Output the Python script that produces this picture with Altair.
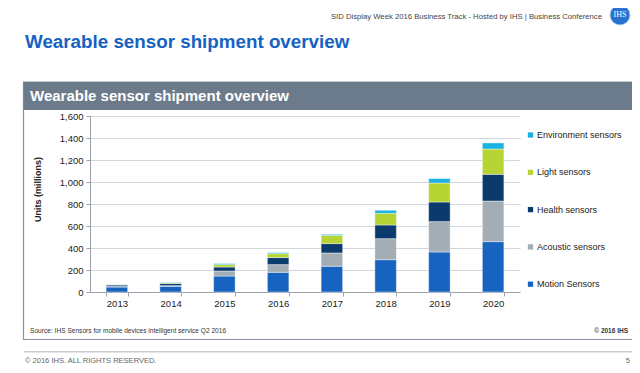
import altair as alt
import pandas as pd

years = ["2013", "2014", "2015", "2016", "2017", "2018", "2019", "2020"]
series = ["Motion Sensors", "Acoustic sensors", "Health sensors", "Light sensors", "Environment sensors"]
motion = [45, 52, 145, 179, 234, 294, 364, 458]
acoustic = [5, 6, 46, 70, 121, 191, 276, 369]
health = [15, 20, 36, 64, 85, 124, 178, 243]
light = [1, 6, 22, 36, 75, 106, 173, 230]
environment = [1, 4, 9, 9, 9, 28, 40, 55]
colors = ["#1764c0", "#a3adb5", "#0b3a6d", "#b6d433", "#1ab2e2"]
y_ticks = [0, 200, 400, 600, 800, 1000, 1200, 1400, 1600]

values = [motion, acoustic, health, light, environment]
rows = []
for si, (name, vals) in enumerate(zip(series, values)):
    for y, v in zip(years, vals):
        rows.append({"year": y, "sensor": name, "units": v, "order": si})
df = pd.DataFrame(rows)

legend_order = list(reversed(series))
legend_colors = list(reversed(colors))

bars = alt.Chart(df).mark_bar(stroke="white", strokeWidth=0.4).encode(
    x=alt.X("year:N", sort=years,
            scale=alt.Scale(paddingInner=0.6, paddingOuter=0.3),
            axis=alt.Axis(title=None, labelAngle=0, labelFontSize=9.5, labelColor="#222",
                          labelPadding=2, tickSize=4, tickBand="extent", tickColor="#9aa3ad",
                          domainColor="#9aa3ad", grid=False)),
    y=alt.Y("units:Q", stack="zero",
            scale=alt.Scale(domain=[0, 1600], nice=False),
            axis=alt.Axis(values=y_ticks, format=",d", title="Units (millions)",
                          titleFontSize=9, titleFontWeight="bold", titleColor="#222",
                          titleX=-53, titleY=73, titleAlign="center", titleBaseline="middle",
                          labelFontSize=9.5, labelColor="#222", labelPadding=3, tickSize=4,
                          tickColor="#9aa3ad", domainColor="#9aa3ad",
                          gridColor="#cfd6de", gridWidth=1)),
    color=alt.Color("sensor:N",
                    scale=alt.Scale(domain=legend_order, range=legend_colors),
                    legend=alt.Legend(title=None, orient="none", legendX=436, legendY=14.5,
                                      padding=0,
                                      symbolType="square", symbolSize=28, symbolStrokeWidth=0,
                                      labelFontSize=9, labelColor="#222", labelOffset=2,
                                      rowPadding=27.3)),
    order=alt.Order("order:Q", sort="ascending"),
)

one = alt.Data(values=[{"k": 1}])

border = alt.Chart(one).mark_rect(fillOpacity=0, stroke="#8793a0", strokeWidth=1.2).encode(
    x=alt.value(-66.5), x2=alt.value(543), y=alt.value(-34), y2=alt.value(223.5))
band = alt.Chart(one).mark_rect(fill="#6c7b8b").encode(
    x=alt.value(-66.5), x2=alt.value(543), y=alt.value(-34), y2=alt.value(-6))
band_text = alt.Chart(one).mark_text(text="Wearable sensor shipment overview", align="left",
                                     baseline="alphabetic", fontSize=15, fontWeight="bold",
                                     color="white").encode(x=alt.value(-60), y=alt.value(-15))
title = alt.Chart(one).mark_text(text="Wearable sensor shipment overview", align="left",
                                 baseline="alphabetic", fontSize=18.8, fontWeight="bold",
                                 color="#1662c2").encode(x=alt.value(-65), y=alt.value(-67.7))
header = alt.Chart(one).mark_text(text="SID Display Week 2016 Business Track - Hosted by IHS |  Business Conference",
                                  align="right", baseline="middle", fontSize=7.7,
                                  color="#444").encode(x=alt.value(512), y=alt.value(-99))
logo = alt.Chart(one).mark_point(shape="circle", filled=True, size=400, color="#2a72cf",
                                 stroke="#a8c8ee", strokeWidth=1, opacity=1).encode(
    x=alt.value(530), y=alt.value(-101))
logo_text = alt.Chart(one).mark_text(text="IHS", align="center", baseline="middle", fontSize=8,
                                     color="white", font="Liberation Serif").encode(
    x=alt.value(530), y=alt.value(-101))
source = alt.Chart(one).mark_text(text="Source: IHS Sensors for mobile devices intelligent service Q2 2016",
                                  align="left", baseline="middle", fontSize=6.6,
                                  color="#333").encode(x=alt.value(-60), y=alt.value(214.7))
copy_r = alt.Chart(one).mark_text(text="© 2016 IHS", align="right", baseline="middle", fontSize=6.5,
                                  fontWeight="bold", color="#333").encode(x=alt.value(538), y=alt.value(214.7))
foot_line = alt.Chart(one).mark_rule(color="#c9ced4", strokeWidth=1.5).encode(
    x=alt.value(-66), x2=alt.value(543), y=alt.value(235.7))
footer = alt.Chart(one).mark_text(text="© 2016 IHS. ALL RIGHTS RESERVED.", align="left",
                                  baseline="alphabetic", fontSize=7.5, color="#666").encode(
    x=alt.value(-65), y=alt.value(247))
page_no = alt.Chart(one).mark_text(text="5", align="right", baseline="alphabetic", fontSize=7.5,
                                   color="#666").encode(x=alt.value(540), y=alt.value(247))

chart = alt.layer(
    border, band, band_text, title, header, logo, logo_text, source, copy_r,
    foot_line, footer, page_no, bars
).properties(
    width=430, height=176,
    autosize=alt.AutoSizeParams(type="none"),
    padding={"left": 82, "top": 108, "right": 112, "bottom": 73},
    background="white",
).configure(font="Liberation Sans").configure_view(stroke="transparent")

chart.save("out.html", embed_options={"renderer": "svg", "actions": False})
